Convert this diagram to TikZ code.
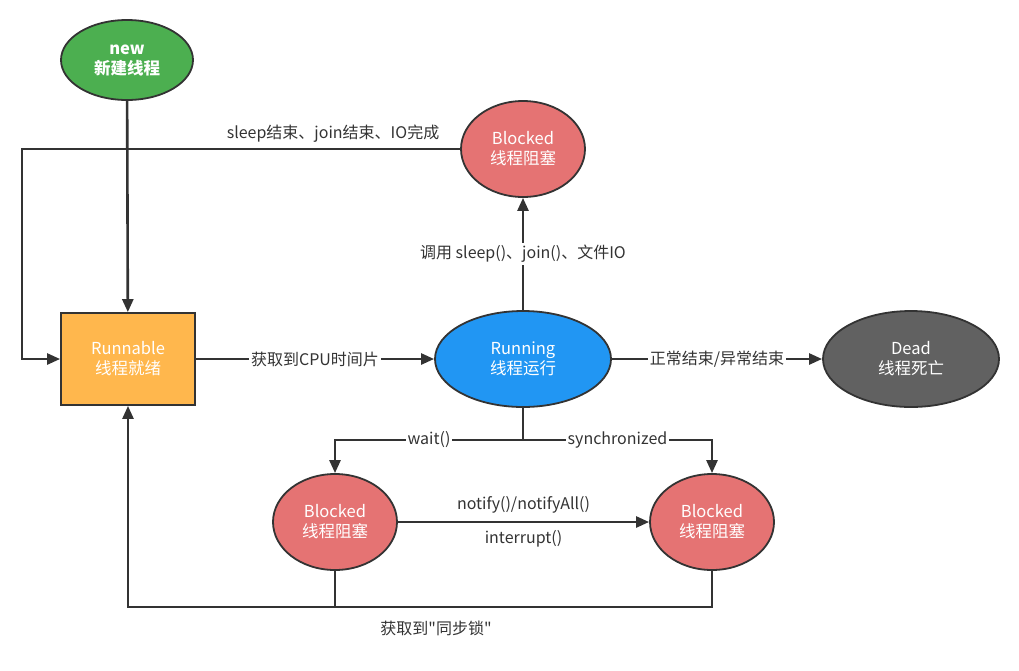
\documentclass[tikz,border=0pt]{standalone}
\usepackage{fontspec}
\setmainfont{Noto Sans CJK SC}
\newfontfamily\quotefont{Noto Sans CJK SC}[Ligatures=ResetAll]
\usepackage{xcolor}
\usetikzlibrary{arrows.meta, positioning, shapes.geometric}

\definecolor{linedark}{HTML}{333333}
\definecolor{newgreen}{HTML}{4CAF50}
\definecolor{blockred}{HTML}{E57373}
\definecolor{readyorange}{HTML}{FFB74D}
\definecolor{runblue}{HTML}{2196F3}
\definecolor{deadgray}{HTML}{616161}

\begin{document}
\begin{tikzpicture}[x=1pt, y=-1pt,
    thread/.style={ellipse, draw=linedark, line width=1.8pt, text=white, align=center,
        inner sep=0pt, font=\fontsize{16.5}{20}\selectfont},
    small/.style={thread, minimum width=124pt, minimum height=96pt},
    wide/.style={thread, minimum width=176pt, minimum height=96pt},
    flow/.style={draw=linedark, line width=2.6pt, -{Triangle[length=13pt, width=11pt]}},
    plain/.style={draw=linedark, line width=2.6pt},
    lbl/.style={text=linedark, font=\fontsize{16}{19}\selectfont, inner sep=2pt},
    onl/.style={lbl, fill=white}]
    \useasboundingbox (0,0) rectangle (1019,670);

    \node[thread, fill=newgreen, minimum width=132pt, minimum height=80pt,
        font=\fontsize{16.5}{20}\selectfont\bfseries] (new) at (127,60) {new\\新建线程};
    \node[small, fill=blockred] (blk) at (523,149) {Blocked\\线程阻塞};
    \node[rectangle, draw=linedark, line width=1.8pt, fill=readyorange, text=white, align=center,
        minimum width=134pt, minimum height=92pt, font=\fontsize{16.5}{20}\selectfont] (ready) at (128,359) {Runnable\\线程就绪};
    \node[wide, fill=runblue] (run) at (523,359) {Running\\线程运行};
    \node[wide, fill=deadgray] (dead) at (911,359) {Dead\\线程死亡};
    \node[small, fill=blockred] (wblk) at (335,522) {Blocked\\线程阻塞};
    \node[small, fill=blockred] (sblk) at (712,522) {Blocked\\线程阻塞};

    \coordinate (back) at (22,149);
    \coordinate (split) at (523,440);
    \coordinate (bot) at (128,607);

    % creation and scheduling
    \draw[flow] (new) -- (ready);
    \draw[flow] (ready) -- node[onl] {获取到CPU时间片} (run);
    \draw[flow] (run) -- node[onl] {正常结束/异常结束} (dead);
    \draw[flow] (run) -- node[onl] {调用 sleep()、join()、文件IO} (blk);
    \draw[flow] (blk) -- node[lbl, above=3pt, pos=0.29] {sleep结束、join结束、IO完成} (back) |- (ready);

    % waiting and locking
    \draw[flow] (run.south) -- (split) -| node[onl, pos=0.25] {wait()} (wblk.north);
    \draw[flow] (split) -| node[onl, pos=0.25] {synchronized} (sblk.north);
    \draw[flow] (wblk) -- node[lbl, above=5pt] {notify()/notifyAll()}
        node[lbl, below=5pt] {interrupt()} (sblk);
    \draw[plain] (wblk.south) -- (wblk.south |- bot);
    \draw[flow] (sblk.south) |- (bot) -- (ready.south);
    \node[lbl, font=\fontsize{16}{19}\quotefont] (lock) at (436,628) {获取到"同步锁"};

\end{tikzpicture}
\end{document}
